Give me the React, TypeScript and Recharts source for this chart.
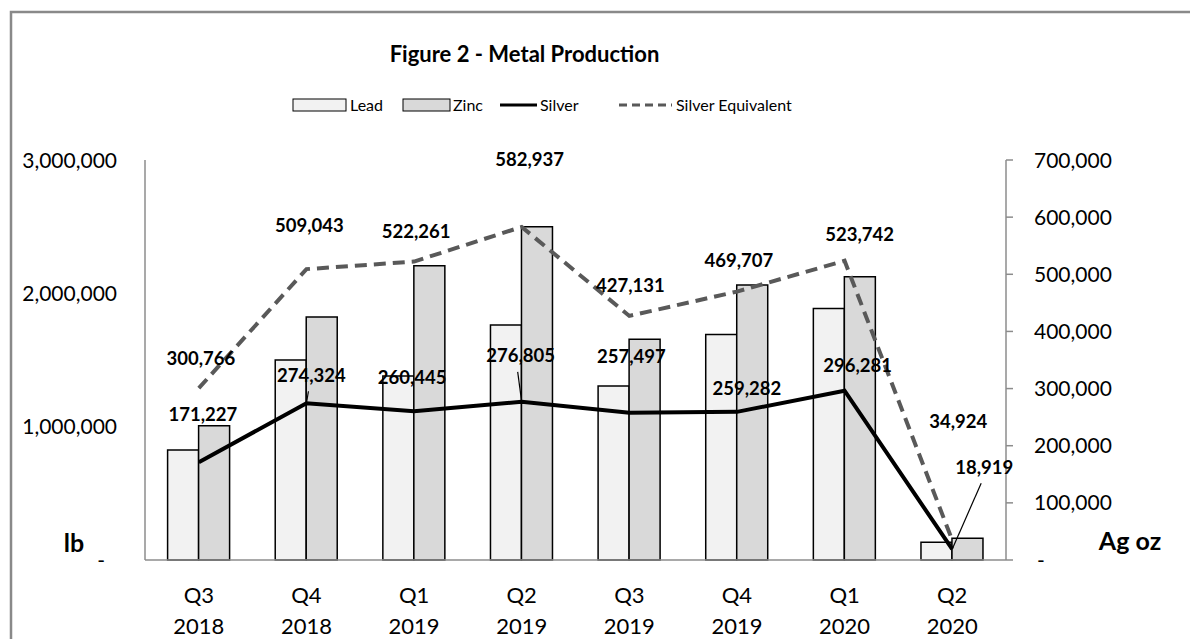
import React from 'react';
import {
  ComposedChart,
  Bar,
  Line,
  XAxis,
  YAxis,
  Legend,
  LabelList,
} from 'recharts';

const periods = ['Q3 2018', 'Q4 2018', 'Q1 2019', 'Q2 2019', 'Q3 2019', 'Q4 2019', 'Q1 2020', 'Q2 2020'];
const leadLb = [825000, 1500000, 1380000, 1763000, 1305000, 1692000, 1887000, 133000];
const zincLb = [1007000, 1822000, 2207000, 2500000, 1655000, 2062000, 2125000, 163000];
const silverOz = [171227, 274324, 260445, 276805, 257497, 259282, 296281, 18919];
const silverEqOz = [300766, 509043, 522261, 582937, 427131, 469707, 523742, 34924];

const lbTicks = [0, 1000000, 2000000, 3000000];
const ozTicks = [0, 100000, 200000, 300000, 400000, 500000, 600000, 700000];

// label nudges (px) relative to each point, as placed in the original
const silverLabelOffsets = [[4, -48], [5, -28], [-2, -34], [-1, -46], [2, -57], [10, -23], [13, -25], [32, -82]];
const silverLeaders = [false, true, false, true, false, false, false, true];
const silverEqLabelOffsets = [[2, -30], [3, -44], [2, -30], [8, -68], [1, -31], [2, -31], [15, -26], [6, -119]];

const data = periods.map((p, i) => ({
  period: p,
  lead: leadLb[i],
  zinc: zincLb[i],
  silver: silverOz[i],
  silverEq: silverEqOz[i],
}));

const FONT = 'Lato, "Open Sans", sans-serif';
const AXIS = '#8c8c8c';
const fmt = (v: number) => v.toLocaleString('en-US');

const makeLabel = (values: number[], offsets: number[][], leaders?: boolean[]) => (props: any) => {
  const x = props.x ?? props.viewBox?.x;
  const y = props.y ?? props.viewBox?.y;
  let idx = typeof props.index === 'number' ? props.index : values.indexOf(props.value);
  if (idx < 0) idx = 0;
  const [dx, dy] = offsets[idx];
  const lx = x + dx;
  const ly = y + dy;
  return (
    <g>
      {leaders && leaders[idx] && (
        <line x1={lx - 3} y1={ly + 16} x2={x} y2={y} stroke="#000" strokeWidth={1.2} />
      )}
      <text x={lx} y={ly} dy="0.36em" textAnchor="middle" fontFamily={FONT} fontWeight={700} fontSize={18.5} fill="#000">
        {fmt(props.value)}
      </text>
    </g>
  );
};

const PeriodTick = ({ x, y, payload }: any) => {
  const [q, yr] = String(payload.value).split(' ');
  return (
    <g>
      <text x={x} y={y + 35} dy="0.36em" textAnchor="middle" fontFamily={FONT} fontSize={22} fill="#000">{q}</text>
      <text x={x} y={y + 66} dy="0.36em" textAnchor="middle" fontFamily={FONT} fontSize={22} fill="#000">{yr}</text>
    </g>
  );
};

const LbTick = ({ x, y, payload }: any) => (
  <text x={payload.value === 0 ? x - 12 : x} y={y} dy="0.36em" textAnchor="end" fontFamily={FONT} fontSize={21} fill="#000">
    {payload.value === 0 ? '-' : fmt(payload.value)}
  </text>
);

const OzTick = ({ x, y, payload }: any) => (
  <text x={payload.value === 0 ? x + 3 : x} y={y} dy="0.36em" textAnchor="start" fontFamily={FONT} fontSize={21} fill="#000">
    {payload.value === 0 ? '-' : fmt(payload.value)}
  </text>
);

const LegendContent = () => (
  <svg width={1190} height={26} style={{ display: 'block' }}>
    <g fontFamily={FONT} fontSize={16} fill="#000">
      <rect x={293} y={7} width={53} height={12} fill="#f2f2f2" stroke="#000" strokeWidth={1} />
      <text x={350} y={13} dy="0.36em">Lead</text>
      <rect x={403} y={7} width={47} height={12} fill="#d9d9d9" stroke="#000" strokeWidth={1} />
      <text x={453} y={13} dy="0.36em">Zinc</text>
      <line x1={500} y1={13} x2={537} y2={13} stroke="#000" strokeWidth={3} />
      <text x={540} y={13} dy="0.36em">Silver</text>
      <line x1={619} y1={13} x2={672} y2={13} stroke="#595959" strokeWidth={3} strokeDasharray="8 5" />
      <text x={676} y={13} dy="0.36em">Silver Equivalent</text>
    </g>
  </svg>
);

export default function App() {
  return (
    <div style={{ position: 'fixed', left: 0, top: 0, width: 1190, height: 639, overflow: 'hidden', background: '#fff', fontFamily: FONT }}>
      <div style={{ position: 'absolute', left: 0, top: 0 }}>
        <ComposedChart
          width={1190}
          height={639}
          data={data}
          margin={{ top: 134, right: 0, bottom: 0, left: 0 }}
          barCategoryGap="21%"
          barGap={0}
        >
          <XAxis
            dataKey="period"
            height={79}
            interval={0}
            tickLine={false}
            tickSize={0}
            tickMargin={0}
            axisLine={{ stroke: AXIS, strokeWidth: 1.5 }}
            tick={<PeriodTick />}
          />
          <YAxis
            yAxisId="lb"
            width={145}
            domain={[0, 3000000]}
            ticks={lbTicks}
            tickLine={false}
            tickSize={0}
            tickMargin={28}
            axisLine={{ stroke: AXIS, strokeWidth: 1.5 }}
            tick={<LbTick />}
          />
          <YAxis
            yAxisId="oz"
            orientation="right"
            width={184}
            domain={[0, 700000]}
            ticks={ozTicks}
            tickSize={7}
            tickMargin={21}
            tickLine={{ stroke: AXIS, strokeWidth: 1.5 }}
            axisLine={{ stroke: AXIS, strokeWidth: 1.5 }}
            tick={<OzTick />}
          />
          <Legend
            verticalAlign="top"
            content={<LegendContent />}
            wrapperStyle={{ top: 92, left: 0, width: 1190, height: 26 }}
          />
          <Bar yAxisId="lb" dataKey="lead" name="Lead" fill="#f2f2f2" stroke="#000" strokeWidth={1.5} isAnimationActive={false} />
          <Bar yAxisId="lb" dataKey="zinc" name="Zinc" fill="#d9d9d9" stroke="#000" strokeWidth={1.5} isAnimationActive={false} />
          <Line
            yAxisId="oz"
            type="linear"
            dataKey="silver"
            name="Silver"
            stroke="#000"
            strokeWidth={4}
            dot={false}
            isAnimationActive={false}
          >
            <LabelList dataKey="silver" content={makeLabel(silverOz, silverLabelOffsets, silverLeaders)} />
          </Line>
          <Line
            yAxisId="oz"
            type="linear"
            dataKey="silverEq"
            name="Silver Equivalent"
            stroke="#595959"
            strokeWidth={4}
            strokeDasharray="12 7"
            dot={false}
            isAnimationActive={false}
          >
            <LabelList dataKey="silverEq" content={makeLabel(silverEqOz, silverEqLabelOffsets)} />
          </Line>
        </ComposedChart>
      </div>
      <svg width={1190} height={639} style={{ position: 'absolute', left: 0, top: 0, pointerEvents: 'none' }}>
        <rect x={11} y={12} width={1300} height={700} fill="none" stroke="#898989" strokeWidth={2.5} />
        <text x={524.5} y={62} textAnchor="middle" fontFamily={FONT} fontWeight={700} fontSize={22} fill="#000">
          Figure 2 - Metal Production
        </text>
        <text x={74} y={552} textAnchor="middle" fontFamily={FONT} fontWeight={700} fontSize={25} fill="#000">lb</text>
        <text x={1130} y={550} textAnchor="middle" fontFamily={FONT} fontWeight={700} fontSize={25} fill="#000">Ag oz</text>
      </svg>
    </div>
  );
}
